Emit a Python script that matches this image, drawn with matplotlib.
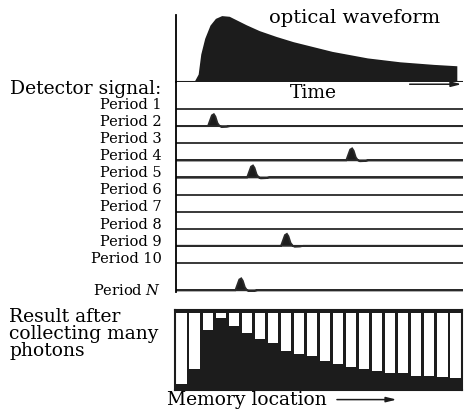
import numpy as np
import matplotlib.pyplot as plt

plt.rcParams['font.family'] = 'DejaVu Serif'
plt.rcParams['mathtext.fontset'] = 'dejavuserif'

# optical waveform (time in memory-bin units, relative intensity)
wave_t = [0, 1.5, 1.8, 2.0, 2.3, 2.7, 3.1, 3.55, 4.1, 4.6, 5.4, 6.4, 7.7, 9.0,
          10.8, 12.0, 14.7, 17.2, 19.8, 21.5, 21.5]
wave_i = [0, 0, 0.11, 0.42, 0.66, 0.86, 0.96, 1.0, 0.99, 0.94, 0.86, 0.77, 0.68,
          0.60, 0.51, 0.45, 0.35, 0.29, 0.25, 0.23, 0]

# detector periods and the time each photon was detected (None = no photon)
periods = ['Period 1', 'Period 2', 'Period 3', 'Period 4', 'Period 5', 'Period 6',
           'Period 7', 'Period 8', 'Period 9', 'Period 10', 'Period $N$']
rows = [1, 2, 3, 4, 5, 6, 7, 8, 9, 10, 11.6]
photon_t = [None, 2.9, None, 13.5, 5.9, None, None, None, 8.5, None, 5.0]

# single photon pulse shape
pulse_dt = [-0.45, -0.3, -0.15, 0, 0.12, 0.28, 0.45, 0.6, 1.0, 1.25]
pulse_a = [0, 0.45, 0.9, 1.0, 0.8, 0.25, 0, -0.08, -0.06, 0]

# histogram in memory
counts = [0.06, 0.26, 0.77, 0.93, 0.83, 0.74, 0.65, 0.60, 0.50, 0.46, 0.43,
          0.37, 0.33, 0.29, 0.26, 0.23, 0.21, 0.20, 0.17, 0.16, 0.15, 0.14]

W, H = 465, 411
dark = '#1c1c1c'
fig = plt.figure(figsize=(W / 100, H / 100), dpi=100)
left, width = 176 / W, 287 / W

# ---- optical waveform
ax = fig.add_axes([left, (H - 82) / H, width, 67 / H])
ax.fill(wave_t, wave_i, color=dark, lw=1.2, ec=dark)
ax.plot([0, 22], [0, 0], color=dark, lw=1.5)
ax.set_xlim(0, 22)
ax.set_ylim(0, 1.03)
for s in ['top', 'right', 'bottom']:
    ax.spines[s].set_visible(False)
ax.spines['left'].set_linewidth(1.3)
ax.set_xticks([])
ax.set_yticks([])
ax.patch.set_alpha(0)
ax.text(7.1, 0.98, 'optical waveform', fontsize=14, va='center', ha='left')

# ---- detector signal
ax2 = fig.add_axes([left, (H - 292) / H, width, 210 / H])
ax2.set_xlim(0, 22)
ax2.set_ylim(11.7, -0.58)
for s in ['top', 'right', 'bottom']:
    ax2.spines[s].set_visible(False)
ax2.spines['left'].set_linewidth(1.3)
ax2.set_xticks([])
ax2.set_yticks([])
ax2.patch.set_alpha(0)
amp = 0.7
for lab, r, t in zip(periods, rows, photon_t):
    if t is None:
        ax2.plot([0, 22], [r, r], color='#2a2a2a', lw=1.3)
    else:
        xs = [0] + [t + d for d in pulse_dt] + [22]
        ys = [r] + [r - amp * a for a in pulse_a] + [r]
        ax2.fill(xs, ys, color=dark, lw=1.3, ec='#2a2a2a')
    dy = 0 if lab.endswith('$') else 3
    ax2.annotate(lab, xy=(0, r), xycoords=ax2.get_yaxis_transform(),
                 xytext=(-10.5, dy), textcoords='offset points',
                 ha='right', va='center', fontsize=10.5)
ax2.text(10.5, 0.05, 'Time', fontsize=13.5, ha='center', va='center')
ax2.annotate('', xy=(22.1, -0.45), xytext=(17.7, -0.45),
             arrowprops=dict(arrowstyle='-|>,head_length=0.6,head_width=0.15',
                             color=dark, lw=1.1), annotation_clip=False)
fig.text(10 / W, (H - 89) / H, 'Detector signal:', fontsize=13.5, va='center')

# ---- histogram
ax3 = fig.add_axes([175 / W, (H - 390) / H, 287 / W, 80 / H])
x = np.arange(len(counts)) + 0.5
ax3.set_facecolor(dark)
ax3.bar(x, [1] * len(counts), width=0.78, color='white')
ax3.bar(x, counts, width=0.78, color=dark)
ax3.set_xlim(0, 22)
ax3.set_ylim(-0.02, 1.04)
ax3.set_xticks([])
ax3.set_yticks([])
for s in ax3.spines.values():
    s.set_linewidth(1.5)
    s.set_color(dark)
ax3.text(-0.6, -0.12, 'Memory location', fontsize=13.5, ha='left', va='center',
         transform=ax3.get_xaxis_transform())
ax3.annotate('', xy=(17.2, -0.12), xytext=(12.2, -0.12),
             xycoords=ax3.get_xaxis_transform(),
             arrowprops=dict(arrowstyle='-|>,head_length=0.6,head_width=0.15',
                             color=dark, lw=1.1), annotation_clip=False)
fig.text(9 / W, (H - 334) / H, 'Result after\ncollecting many\nphotons',
         fontsize=13.5, va='center', ha='left', linespacing=0.92)

fig.savefig('out.png', dpi=100)
